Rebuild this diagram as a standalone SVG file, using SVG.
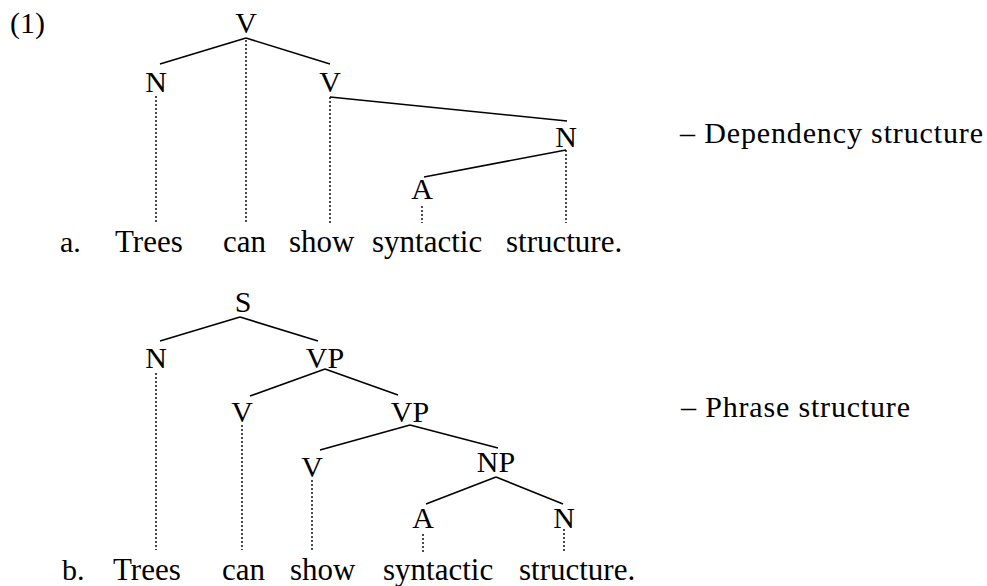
<svg xmlns="http://www.w3.org/2000/svg" width="987" height="586" viewBox="0 0 987 586" font-family="'Liberation Serif', serif" font-size="30">
<style>
text{font-family:"Liberation Serif",serif;font-size:30px;fill:#000}
.w{font-size:31px}
.l{text-anchor:middle}
.e{stroke:#000;stroke-width:1.6;fill:none}
.d{stroke:#000;stroke-width:1.4;stroke-dasharray:2 2;fill:none}
</style>
<rect width="987" height="586" fill="#fff"/>
<text x="10" y="33">(1)</text>
<g id="tree-a">
<g id="a-V1"><text class="l" x="246" y="33">V</text></g>
<g id="a-N1"><text class="l" x="156" y="92">N</text></g>
<g id="a-V2"><text class="l" x="330" y="92">V</text></g>
<g id="a-N2"><text class="l" x="566" y="147">N</text></g>
<g id="a-A"><text class="l" x="422" y="199">A</text></g>
</g>
<g id="connectors-a">
<path class="e" d="M246 38 L160 64 M246 38 L330 64 M330 97 L567 121 M566 150 L424 177"/>
<path class="d" d="M246 40 V223 M156 96 V222 M330 97 V223 M566 150 V223 M422 206 V223"/>
</g>
<g id="words-a">
<text x="60" y="252">a.</text>
<text class="w" x="115" y="252">Trees</text>
<text class="w" x="223" y="252">can</text>
<text class="w" x="289" y="252">show</text>
<text class="w" x="372" y="252">syntactic</text>
<text class="w" x="506" y="252">structure.</text>
</g>
<text x="680" y="143" textLength="303" lengthAdjust="spacing">– Dependency structure</text>
<g id="tree-b">
<g id="b-S"><text class="l" x="243" y="312">S</text></g>
<g id="b-N1"><text class="l" x="156" y="368">N</text></g>
<g id="b-VP1"><text class="l" x="325" y="368">VP</text></g>
<g id="b-V1"><text class="l" x="242" y="422">V</text></g>
<g id="b-VP2"><text class="l" x="410" y="422">VP</text></g>
<g id="b-V2"><text class="l" x="312" y="477">V</text></g>
<g id="b-NP"><text class="l" x="496" y="472">NP</text></g>
<g id="b-A"><text class="l" x="423" y="528">A</text></g>
<g id="b-N2"><text class="l" x="564" y="528">N</text></g>
</g>
<g id="connectors-b">
<path class="e" d="M240 317 L160 341 M240 317 L318 341 M325 369 L250 396 M325 369 L398 395 M410 425 L320 450 M410 425 L498 448 M496 477 L426 504 M496 477 L563 504"/>
<path class="d" d="M156 373 V550 M242 425 V550 M312 480 V550 M423 534 V552 M564 529 V552"/>
</g>
<g id="words-b">
<text x="62" y="580">b.</text>
<text class="w" x="113" y="580">Trees</text>
<text class="w" x="222" y="580">can</text>
<text class="w" x="290" y="580">show</text>
<text class="w" x="383" y="580">syntactic</text>
<text class="w" x="519" y="580">structure.</text>
</g>
<text x="681" y="417" textLength="229" lengthAdjust="spacing">– Phrase structure</text>
</svg>
